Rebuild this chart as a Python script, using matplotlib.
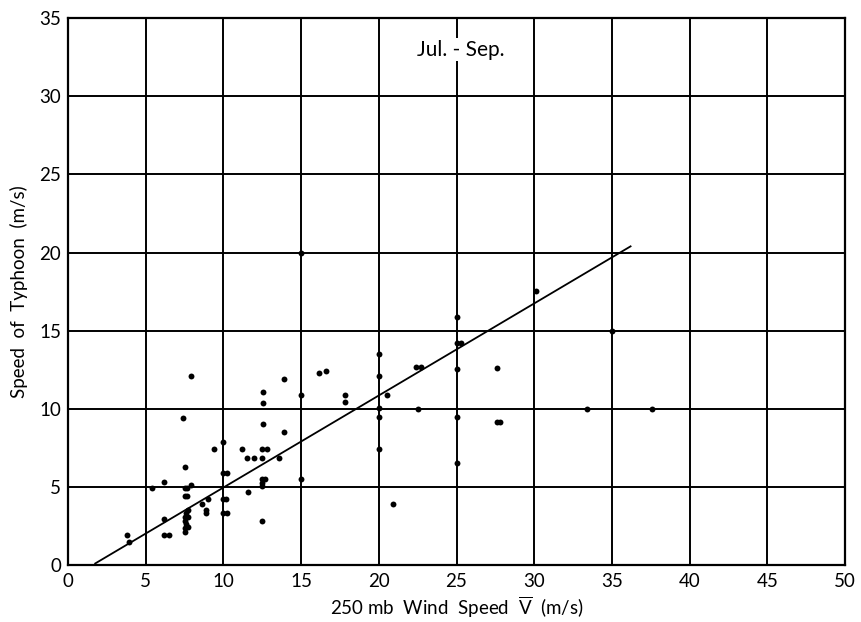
import matplotlib
matplotlib.use("Agg")
import matplotlib.pyplot as plt

plt.rcParams['font.family'] = ['Lato', 'DejaVu Sans']
plt.rcParams['mathtext.fontset'] = 'custom'
plt.rcParams['mathtext.rm'] = 'Lato'

# 250 mb wind speed (m/s) vs typhoon speed (m/s), Jul.-Sep.
wind_speed = [3.8, 3.9, 5.4, 6.2, 6.2, 6.2, 6.5,
              7.4, 7.9, 7.5, 7.9, 7.5, 7.65, 7.5, 7.65,
              7.7, 7.6, 7.5, 7.7, 7.5, 7.6, 7.5, 7.7, 7.5,
              8.65, 9.0, 8.85, 8.85,
              9.4, 10.0, 10.0, 10.2, 10.0, 10.15, 10.0, 10.2,
              11.6, 11.2, 11.5, 12.0, 12.5, 12.8, 12.5,
              12.55, 12.55, 12.55, 12.5, 12.7, 12.5, 12.5, 12.5,
              13.6, 13.9, 13.9, 15.0, 15.0, 15.0,
              16.15, 16.6, 17.8, 17.8,
              20.0, 20.0, 20.5, 20.0, 20.0, 20.0, 20.9,
              22.5, 22.4, 22.7,
              25.0, 25.0, 25.3, 25.0, 25.0, 25.0,
              27.6, 27.6, 27.8,
              30.1, 33.4, 35.0, 37.6]
typhoon_speed = [1.9, 1.45, 4.9, 5.3, 2.95, 1.95, 1.9,
                 9.4, 12.1, 6.25, 5.15, 4.95, 4.95, 4.45, 4.45,
                 3.5, 3.3, 3.1, 3.1, 2.85, 2.6, 2.4, 2.45, 2.1,
                 3.9, 4.25, 3.55, 3.3,
                 7.4, 7.85, 5.9, 5.9, 4.25, 4.25, 3.35, 3.35,
                 4.7, 7.4, 6.85, 6.85, 7.45, 7.45, 6.85,
                 11.1, 10.4, 9.0, 5.5, 5.5, 5.25, 5.05, 2.8,
                 6.85, 8.5, 11.9, 10.9, 5.5, 20.0,
                 12.3, 12.4, 10.9, 10.45,
                 13.5, 12.1, 10.9, 10.05, 9.45, 7.4, 3.9,
                 10.0, 12.65, 12.65,
                 15.85, 14.2, 14.2, 12.55, 9.5, 6.55,
                 12.6, 9.15, 9.15,
                 17.55, 10.0, 15.0, 10.0]

# regression line end points
fit_x = [1.75, 36.2]
fit_y = [0.1, 20.4]

x_ticks = list(range(0, 51, 5))
y_ticks = list(range(0, 36, 5))

fig = plt.figure(figsize=(8.62, 6.22), dpi=100)
ax = fig.add_axes([0.0789, 0.0916, 0.9014, 0.879])

ax.scatter(wind_speed, typhoon_speed, s=18, color='black', zorder=3, linewidths=0)
ax.plot(fit_x, fit_y, color='black', lw=1.3, zorder=3)

ax.set_xlim(0, 50)
ax.set_ylim(0, 35)
ax.set_xticks(x_ticks)
ax.set_yticks(y_ticks)
ax.grid(True, color='black', lw=1.4)
ax.tick_params(length=0, labelsize=13.5)
ax.tick_params(axis='x', pad=6)
ax.tick_params(axis='y', pad=5)
for sp in ax.spines.values():
    sp.set_linewidth(1.6)

ax.text(25.3, 33.0, 'Jul. - Sep.', fontsize=15, ha='center', va='center',
        bbox=dict(facecolor='white', edgecolor='none', pad=1))

ax.set_xlabel(r'250 mb  Wind  Speed  $\overline{\mathrm{V}}$  (m/s)', fontsize=13.5, labelpad=3)
ax.set_ylabel('Speed  of  Typhoon  (m/s)', fontsize=13.5, labelpad=8)

fig.savefig('out.png', dpi=100)
